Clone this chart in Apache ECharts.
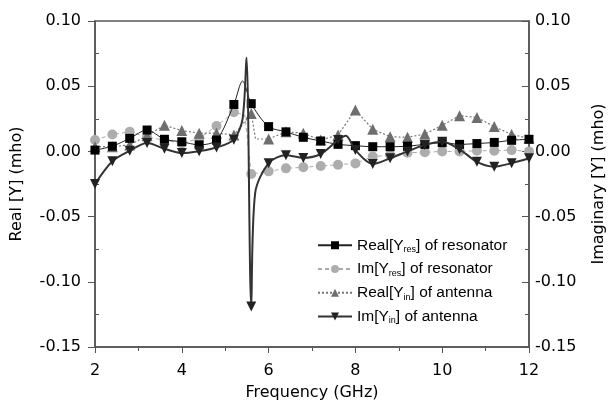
<!DOCTYPE html>
<html><head><meta charset="utf-8">
<script src="https://cdn.jsdelivr.net/npm/echarts@6/dist/echarts.min.js"></script>
<style>html,body{margin:0;padding:0;background:#fff}#c{width:616px;height:401px}</style>
</head><body><div id="c"></div>
<script>
// Marker frequencies (GHz)
const freqs = [2.0,2.4,2.8,3.2,3.6,4.0,4.4,4.8,5.2,5.6,6.0,6.4,6.8,7.2,7.6,8.0,8.4,8.8,9.2,9.6,10.0,10.4,10.8,11.2,11.6,12.0];
// Series values at marker frequencies (mho)
const realYres = [0.001,0.004,0.010,0.0164,0.0093,0.0074,0.005,0.0087,0.036,0.0366,0.019,0.015,0.0108,0.008,0.0054,0.0044,0.0036,0.0036,0.004,0.0054,0.0067,0.0054,0.006,0.0069,0.0085,0.0093];
const imYres   = [0.0087,0.013,0.015,0.011,0.0087,0.006,0.010,0.0195,0.030,-0.0173,-0.0153,-0.013,-0.0122,-0.0112,-0.0102,-0.0092,-0.004,-0.0028,-0.001,-0.0007,0.0,0.0,0.0005,0.0005,0.001,0.0];
const realYin  = [0.0036,0.0036,0.005,0.012,0.020,0.016,0.014,0.014,0.0126,0.029,0.0095,0.015,0.014,0.0087,0.0126,0.0317,0.017,0.0113,0.0108,0.0133,0.020,0.0274,0.026,0.019,0.013,0.010];
const imYin    = [-0.025,-0.0075,0.0005,0.0065,0.002,-0.0013,0.0002,0.003,0.009,-0.119,-0.009,-0.003,-0.005,-0.002,0.0087,0.001,-0.0097,-0.0053,0.0,0.005,0.0074,0.0016,-0.008,-0.0117,-0.009,-0.0053];
// Extra curve points (no marker)
const realYresExtraF = [5.4];
const realYresExtraV = [0.054];
const imYresExtraF = [5.45];
const imYresExtraV = [0.028];
const realYinExtraF = [5.7];
const realYinExtraV = [0.0095];
const imYinExtraF = [5.4, 5.49, 5.69, 7.78];
const imYinExtraV = [0.025, 0.072, -0.032, 0.012];
// Tick labels / axis
const yTicks = [-0.15,-0.10,-0.05,0.00,0.05,0.10];
const xTicks = [2,4,6,8,10,12];
const legendNames = ['Real[Yres] of resonator','Im[Yres] of resonator','Real[Yin] of antenna','Im[Yin] of antenna'];
const legendRich = ['Real[Y{sub|res}] of resonator','Im[Y{sub|res}] of resonator','Real[Y{sub|in}] of antenna','Im[Y{sub|in}] of antenna'];

function build(f, v, ef, ev) {
  const pts = f.map((x,i)=>({value:[x,v[i]]}));
  ef.forEach((x,i)=>pts.push({value:[x,ev[i]], symbol:'none'}));
  pts.sort((a,b)=>a.value[0]-b.value[0]);
  return pts;
}

const chart = echarts.init(document.getElementById('c'), null, {renderer:'canvas'});
const tickFont = {fontFamily:'DejaVu Sans', fontSize:16, color:'#000'};
const axisLine = {show:true, onZero:false, lineStyle:{color:'#555', width:1.5}};
chart.setOption({
  animation:false,
  backgroundColor:'#fff',
  grid:{left:95, right:87, top:21, bottom:54, show:true, borderColor:'#555', borderWidth:1.5,
        containLabel:false, outerBoundsMode:'none'},
  legend:{
    orient:'vertical', left:312, top:232, itemGap:6.5, itemWidth:34, itemHeight:10,
    data:legendNames,
    formatter:(n)=>legendRich[legendNames.indexOf(n)],
    textStyle:{fontFamily:'Liberation Sans', fontSize:15.5, color:'#000', lineHeight:16.5,
      rich:{sub:{fontFamily:'Liberation Sans', fontSize:9, color:'#000', padding:[9,0,0,0]}}}
  },
  xAxis:{type:'value', min:2, max:12, interval:2,
    name:'Frequency (GHz)', nameLocation:'middle', nameGap:38,
    nameTextStyle:{fontFamily:'DejaVu Sans', fontSize:16, color:'#000'},
    axisLine:axisLine, axisTick:{show:true, length:6, lineStyle:{color:'#555'}},
    minorTick:{show:true, splitNumber:2, length:4, lineStyle:{color:'#555'}},
    splitLine:{show:false},
    axisLabel:Object.assign({margin:16, formatter:(v)=>xTicks.includes(v)?String(v):''}, tickFont)
  },
  yAxis:[
    {type:'value', min:-0.15, max:0.10, interval:0.05, position:'left',
     name:'Real [Y] (mho)', nameLocation:'middle', nameGap:70, nameRotate:90,
     nameTextStyle:{fontFamily:'DejaVu Sans', fontSize:16, color:'#000'},
     axisLine:axisLine, axisTick:{show:true, length:7, lineStyle:{color:'#555'}},
     minorTick:{show:false},
     splitLine:{show:false},
     axisLabel:Object.assign({margin:14, formatter:(v)=>v.toFixed(2)}, tickFont)},
    {type:'value', min:-0.15, max:0.10, interval:0.05, position:'right',
     name:'Imaginary [Y] (mho)', nameLocation:'middle', nameGap:62, nameRotate:90,
     nameTextStyle:{fontFamily:'DejaVu Sans', fontSize:16, color:'#000'},
     axisLine:axisLine, axisTick:{show:true, inside:true, length:7, lineStyle:{color:'#555'}},
     minorTick:{show:true, splitNumber:2, length:4, lineStyle:{color:'#555'}},
     splitLine:{show:false},
     axisLabel:Object.assign({margin:6, formatter:(v)=>v.toFixed(2)}, tickFont)},
    {type:'value', min:-0.15, max:0.10, interval:0.05, position:'left',
     axisLine:{show:false}, axisLabel:{show:false},
     axisTick:{show:false, inside:true},
     minorTick:{show:true, splitNumber:2, length:4, lineStyle:{color:'#555'}},
     splitLine:{show:false}}
  ],
  series:[
    {name:legendNames[0], type:'line', yAxisIndex:0, smooth:0.3, data:build(freqs, realYres, realYresExtraF, realYresExtraV),
     symbol:'rect', symbolSize:9, showAllSymbol:true,
     lineStyle:{color:'#222', width:1}, itemStyle:{color:'#000'}, z:4},
    {name:legendNames[1], type:'line', yAxisIndex:1, data:build(freqs, imYres, imYresExtraF, imYresExtraV),
     symbol:'circle', symbolSize:10, showAllSymbol:true,
     lineStyle:{color:'#aaa', width:1, type:[4,3]}, itemStyle:{color:'#adadad'}, z:2},
    {name:legendNames[2], type:'line', yAxisIndex:0, data:build(freqs, realYin, realYinExtraF, realYinExtraV),
     symbol:'triangle', symbolSize:11, showAllSymbol:true,
     lineStyle:{color:'#777', width:1.2, type:[2,2]}, itemStyle:{color:'#6e6e6e'}, z:3},
    {name:legendNames[3], type:'line', yAxisIndex:1, smooth:0.3, data:build(freqs, imYin, imYinExtraF, imYinExtraV),
     symbol:'triangle', symbolRotate:180, symbolSize:10, showAllSymbol:true,
     lineStyle:{color:'#333', width:2}, itemStyle:{color:'#222'}, z:5}
  ]
});
</script></body></html>
